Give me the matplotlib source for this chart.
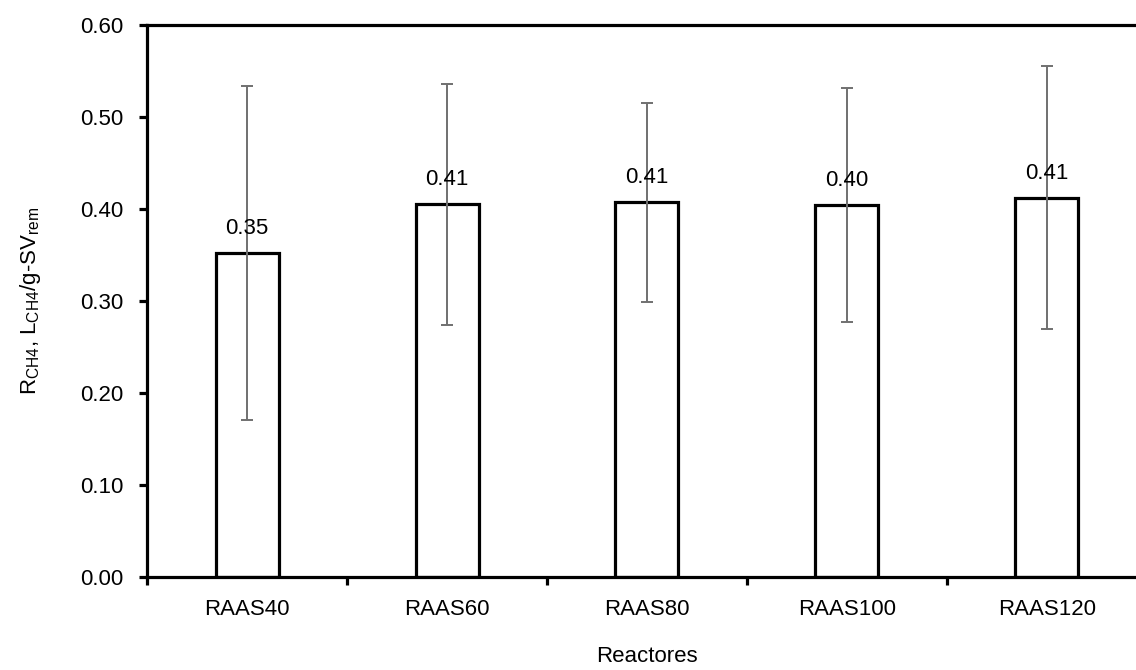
import numpy as np
import matplotlib.pyplot as plt
from matplotlib.ticker import FixedLocator, NullFormatter

# data
reactors = ['RAAS40', 'RAAS60', 'RAAS80', 'RAAS100', 'RAAS120']
yield_ch4 = [0.352, 0.405, 0.407, 0.404, 0.412]
err_ch4 = [0.181, 0.131, 0.108, 0.127, 0.143]
labels = ['0.35', '0.41', '0.41', '0.40', '0.41']

plt.rcParams['font.family'] = ['Liberation Sans', 'DejaVu Sans']
plt.rcParams['mathtext.fontset'] = 'custom'
plt.rcParams['mathtext.rm'] = 'Liberation Sans'

FS = 16

fig = plt.figure(figsize=(11.36, 6.70), dpi=100)
# plot area runs off the right edge of the picture, as in the original
ax = fig.add_axes([0.1295, 0.139, 0.880, 0.824])

x = np.arange(len(reactors))
ax.bar(x, yield_ch4, width=0.315, color='white', edgecolor='black', linewidth=2.3, zorder=2)
ax.errorbar(x, yield_ch4, yerr=err_ch4, fmt='none', ecolor='#707070',
            elinewidth=1.4, capsize=4.5, capthick=1.4, zorder=3)

for xi, v, t in zip(x, yield_ch4, labels):
    ax.annotate(t, (xi, v), xytext=(0, 10), textcoords='offset points',
                ha='center', va='bottom', fontsize=FS)

ax.set_xlim(-0.5, len(reactors) - 0.5)
ax.set_ylim(0, 0.6)
ax.set_yticks(np.arange(0, 0.61, 0.1))
ax.set_yticklabels([f'{v:.2f}' for v in np.arange(0, 0.61, 0.1)])

# ticks at category boundaries, labels at centres
ax.xaxis.set_major_locator(FixedLocator(np.arange(-0.5, len(reactors) - 1, 1.0)))
ax.xaxis.set_major_formatter(NullFormatter())
ax.xaxis.set_minor_locator(FixedLocator(x))
ax.set_xticklabels(reactors, minor=True)
ax.tick_params(axis='x', which='minor', length=0, pad=16, labelsize=FS)
ax.tick_params(axis='x', which='major', direction='out', length=6, width=2.3)
ax.tick_params(axis='y', direction='out', length=6, width=2.3, pad=11, labelsize=FS)

for s in ax.spines.values():
    s.set_linewidth(2.3)
ax.spines['right'].set_visible(False)

ax.set_xlabel('Reactores', fontsize=FS, labelpad=19)
ax.set_ylabel(r'R$_{\mathregular{CH4}}$, L$_{\mathregular{CH4}}$/g-SV$_{\mathregular{rem}}$',
              fontsize=FS, labelpad=27)

fig.savefig('out.png', dpi=100)
